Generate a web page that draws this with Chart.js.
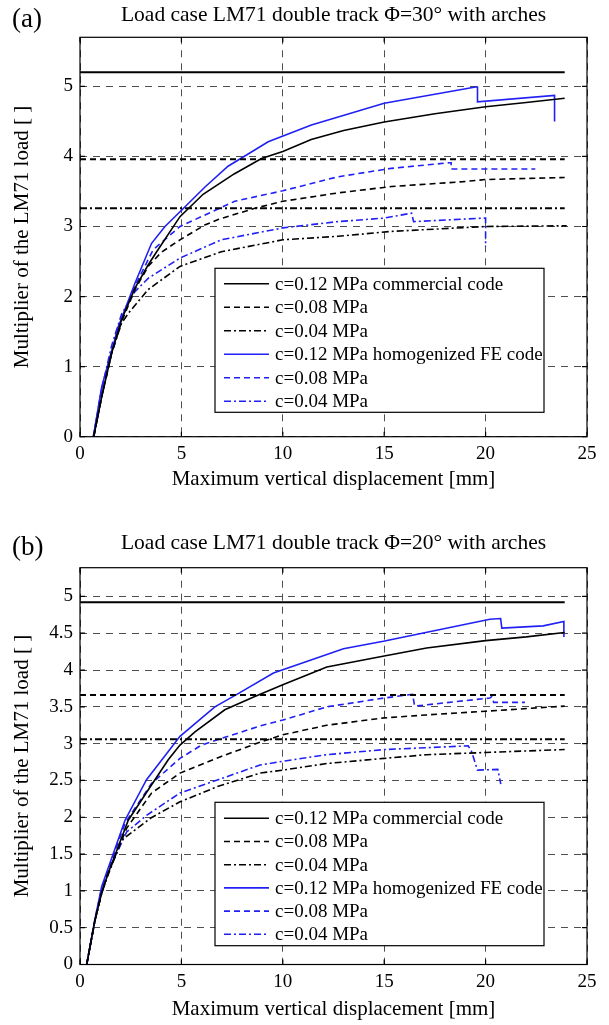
<!DOCTYPE html>
<html>
<head>
<meta charset="utf-8">
<script src="https://cdn.jsdelivr.net/npm/chart.js@4.4.0/dist/chart.umd.min.js"></script>
<style>
    body { margin: 0; background: #fff; }
    #contenedor { position: relative; width: 609px; height: 1025px; }
    .panel { position: absolute; left: 0; }
</style>
</head>
<body>
<div id="contenedor">
    <div class="panel" style="top:0"><canvas id="grafico-a" width="609" height="512"></canvas></div>
    <div class="panel" style="top:512px"><canvas id="grafico-b" width="609" height="513"></canvas></div>
</div>
<script>
var FUENTE = "'Liberation Serif', 'Times New Roman', serif";
var AZUL = '#2020f4';

var ticks_x = [0, 5, 10, 15, 20, 25];
var ticks_y_a = [0, 1, 2, 3, 4, 5];
var ticks_y_b = [0, 0.5, 1, 1.5, 2, 2.5, 3, 3.5, 4, 4.5, 5];

// (a) Phi = 30 deg: limit loads (horizontal lines)
var a_limite = [5.2, 3.96, 3.26];
var a_com_012 = [[0.68, 0], [1.07, 0.57], [1.56, 1.19], [2.05, 1.67], [2.71, 2.12], [3.36, 2.45], [3.78, 2.64], [4.93, 3.14], [6.07, 3.46], [7.6, 3.75], [8.95, 3.97], [10, 4.07], [11.4, 4.24], [13, 4.37], [15, 4.49], [17.5, 4.61], [20, 4.71], [22, 4.77], [23.9, 4.83]];
var a_com_008 = [[0.68, 0], [1.07, 0.57], [1.56, 1.19], [2.05, 1.64], [2.71, 2.1], [3.36, 2.43], [4.0, 2.63], [4.93, 2.81], [6.15, 3.02], [6.81, 3.1], [8.62, 3.26], [10, 3.36], [12.73, 3.48], [15.36, 3.57], [18.9, 3.64], [20, 3.67], [23.9, 3.7]];
var a_com_004 = [[0.68, 0], [1.07, 0.57], [1.56, 1.19], [2.05, 1.62], [2.38, 1.76], [3.36, 2.1], [4.93, 2.43], [6.97, 2.64], [10, 2.81], [12.73, 2.86], [15.36, 2.93], [20, 3.0], [24, 3.01]];
var a_fem_012 = [[0.66, 0], [1.07, 0.71], [1.89, 1.57], [2.71, 2.19], [3.53, 2.76], [4.19, 3.0], [4.93, 3.21], [6.15, 3.56], [7.3, 3.86], [9.28, 4.21], [11.41, 4.45], [15, 4.76], [19.5, 4.99], [19.6, 4.99], [19.6, 4.78], [23.4, 4.87], [23.4, 4.5]];
var a_fem_008 = [[0.66, 0], [1.07, 0.68], [1.89, 1.57], [2.71, 2.15], [3.61, 2.67], [4.93, 3.0], [7.63, 3.36], [10, 3.51], [12.73, 3.71], [15.36, 3.83], [18.2, 3.91], [18.3, 3.91], [18.3, 3.82], [22.45, 3.82]];
var a_fem_004 = [[0.66, 0], [1.07, 0.68], [1.56, 1.3], [2.05, 1.75], [2.71, 2.07], [3.36, 2.26], [4.93, 2.55], [6.97, 2.81], [10, 2.98], [12.73, 3.07], [15, 3.12], [16.35, 3.19], [16.45, 3.07], [20, 3.12], [20, 2.71]];

// (b) Phi = 20 deg
var b_limite = [4.92, 3.66, 3.06];
var b_com_012 = [[0.33, 0], [0.74, 0.6], [1.07, 0.97], [1.39, 1.24], [2.38, 1.96], [3.36, 2.37], [4.35, 2.78], [4.93, 2.98], [5.67, 3.16], [7.14, 3.46], [8.62, 3.64], [10, 3.8], [12.17, 4.04], [15, 4.19], [17.09, 4.3], [20, 4.4], [22, 4.45], [23.9, 4.51]];
var b_com_008 = [[0.33, 0], [0.74, 0.6], [1.07, 0.97], [1.39, 1.24], [2.3, 1.85], [3.53, 2.33], [4.93, 2.6], [6.9, 2.82], [8.88, 3.02], [10, 3.12], [12.17, 3.25], [15, 3.35], [17.09, 3.39], [20, 3.44], [23.9, 3.51]];
var b_com_004 = [[0.33, 0], [0.74, 0.6], [1.07, 0.97], [1.39, 1.22], [2.05, 1.69], [3.49, 1.99], [4.93, 2.21], [6.81, 2.42], [8.88, 2.6], [10, 2.64], [12.17, 2.73], [15, 2.8], [17.09, 2.85], [20, 2.88], [23.9, 2.92]];
var b_fem_012 = [[0.33, 0], [0.74, 0.62], [1.07, 1.06], [2.22, 1.96], [3.28, 2.51], [4.93, 3.1], [6.65, 3.5], [7.8, 3.68], [9.54, 3.96], [12.99, 4.29], [14.96, 4.39], [20.21, 4.69], [20.74, 4.7], [20.8, 4.57], [22.84, 4.6], [23.86, 4.66], [23.86, 4.45]];
var b_fem_008 = [[0.33, 0], [0.74, 0.62], [1.07, 1.03], [2.22, 1.92], [3.53, 2.46], [4.93, 2.8], [5.99, 2.98], [6.97, 3.07], [8.88, 3.24], [10, 3.32], [12.17, 3.5], [15, 3.62], [16.4, 3.67], [16.5, 3.51], [20.21, 3.62], [20.3, 3.64], [20.4, 3.56], [21.94, 3.56]];
var b_fem_004 = [[0.33, 0], [0.74, 0.6], [1.07, 0.99], [1.39, 1.26], [2.3, 1.8], [3.3, 2.03], [4.93, 2.33], [6.81, 2.51], [8.88, 2.71], [10, 2.76], [12.17, 2.85], [15, 2.92], [19.14, 2.97], [19.3, 2.9], [19.6, 2.64], [20.6, 2.65], [20.75, 2.45]];

var etiquetas = [
    'c=0.12 MPa commercial code',
    'c=0.08 MPa',
    'c=0.04 MPa',
    'c=0.12 MPa homogenized FE code',
    'c=0.08 MPa',
    'c=0.04 MPa'
];

var DASH = [6, 4];
var DASH_DOT = [7, 3, 2, 3];

to_xy = function (pares) {
    return pares.map(function (p) { return { x: p[0], y: p[1] }; });
}

serie = function (label, pares, color, dash) {
    return {
        label: label,
        data: to_xy(pares),
        borderColor: color,
        backgroundColor: color,
        borderWidth: 1.6,
        borderDash: dash,
        showLine: true,
        pointRadius: 0,
        tension: 0,
        fill: false
    }
}

linea_limite = function (valor, dash) {
    return {
        data: [{ x: 0, y: valor }, { x: 23.9, y: valor }],
        borderColor: '#000',
        borderWidth: 2,
        borderDash: dash,
        showLine: true,
        pointRadius: 0
    }
}

// frame round the plot plus inward tick marks on the four sides
var marco_plugin = {
    id: 'marco',
    afterDatasetsDraw: function (chart) {
        var ctx = chart.ctx;
        var a = chart.chartArea;
        var sx = chart.scales.x, sy = chart.scales.y;
        ctx.save();
        ctx.strokeStyle = '#000';
        ctx.lineWidth = 1.2;
        ctx.setLineDash([]);
        ctx.beginPath();
        sx.ticks.forEach(function (t) {
            var px = sx.getPixelForValue(t.value);
            ctx.moveTo(px, a.bottom); ctx.lineTo(px, a.bottom - 5);
            ctx.moveTo(px, a.top); ctx.lineTo(px, a.top + 5);
        });
        sy.ticks.forEach(function (t) {
            var py = sy.getPixelForValue(t.value);
            ctx.moveTo(a.left, py); ctx.lineTo(a.left + 5, py);
            ctx.moveTo(a.right, py); ctx.lineTo(a.right - 5, py);
        });
        ctx.stroke();
        ctx.strokeRect(a.left, a.top, a.right - a.left, a.bottom - a.top);
        ctx.restore();
    }
};

var leyenda_plugin = {
    id: 'leyenda_caja',
    afterDatasetsDraw: function (chart, args, opts) {
        var ctx = chart.ctx;
        var a = chart.chartArea;
        var x0 = a.left + opts.left;
        var y0 = a.top + opts.top;
        ctx.save();
        ctx.fillStyle = '#fff';
        ctx.fillRect(x0, y0, opts.width, opts.height);
        ctx.strokeStyle = '#000';
        ctx.lineWidth = 1.2;
        ctx.setLineDash([]);
        ctx.strokeRect(x0, y0, opts.width, opts.height);
        var items = chart.data.datasets.filter(function (d) { return d.label; });
        for (var i = 0; i < items.length; i++) {
            var ds = items[i];
            var y = y0 + opts.first + i * opts.step;
            ctx.beginPath();
            ctx.setLineDash(ds.borderDash || []);
            ctx.strokeStyle = ds.borderColor;
            ctx.lineWidth = ds.borderWidth;
            ctx.moveTo(x0 + 9, y);
            ctx.lineTo(x0 + 54, y);
            ctx.stroke();
            ctx.setLineDash([]);
            ctx.fillStyle = '#000';
            ctx.font = '19px ' + FUENTE;
            ctx.textBaseline = 'middle';
            ctx.textAlign = 'left';
            ctx.fillText(ds.label, x0 + 60, y + 1);
        }
        ctx.restore();
    }
};

var titulo_plugin = {
    id: 'titulo_panel',
    afterDraw: function (chart, args, opts) {
        var ctx = chart.ctx;
        var a = chart.chartArea;
        ctx.save();
        ctx.fillStyle = '#000';
        ctx.textBaseline = 'middle';
        ctx.textAlign = 'center';
        ctx.font = '21.5px ' + FUENTE;
        ctx.fillText(opts.texto, (a.left + a.right) / 2, opts.y);
        ctx.textAlign = 'left';
        ctx.font = '27px ' + FUENTE;
        ctx.fillText(opts.letra, 12, opts.y + 5);
        ctx.restore();
    }
};

function create_chart(id, conf) {
    var ctx = document.getElementById(id);
    var alto = ctx.height;
    var datasets = [
        linea_limite(conf.limite[0], []),
        linea_limite(conf.limite[1], DASH),
        linea_limite(conf.limite[2], DASH_DOT),
        serie(etiquetas[0], conf.series[0], '#000', []),
        serie(etiquetas[1], conf.series[1], '#000', DASH),
        serie(etiquetas[2], conf.series[2], '#000', DASH_DOT),
        serie(etiquetas[3], conf.series[3], AZUL, []),
        serie(etiquetas[4], conf.series[4], AZUL, DASH),
        serie(etiquetas[5], conf.series[5], AZUL, DASH_DOT)
    ];
    return new Chart(ctx, {
        type: 'scatter',
        data: { datasets: datasets },
        plugins: [marco_plugin, leyenda_plugin, titulo_plugin],
        options: {
            responsive: false,
            animation: false,
            devicePixelRatio: 1,
            layout: { padding: { left: 0, right: 22, top: conf.top, bottom: 0 } },
            scales: {
                x: {
                    type: 'linear',
                    min: 0,
                    max: 25,
                    afterFit: function (s) { s.height = alto - conf.bottom; },
                    afterBuildTicks: function (s) { s.ticks = ticks_x.map(function (v) { return { value: v }; }); },
                    grid: { color: '#222', lineWidth: 0.8, drawTicks: false },
                    border: { display: false, dash: [7, 6] },
                    ticks: {
                        color: '#000',
                        padding: 6,
                        maxRotation: 0,
                        font: { family: FUENTE, size: 19 },
                        callback: function (v) { return String(v); }
                    },
                    title: {
                        display: true,
                        text: 'Maximum vertical displacement [mm]',
                        color: '#000',
                        font: { family: FUENTE, size: 21 },
                        padding: { top: 0, bottom: conf.titulo_x }
                    }
                },
                y: {
                    type: 'linear',
                    min: 0,
                    max: conf.ymax,
                    afterFit: function (s) { s.width = 80; },
                    afterBuildTicks: function (s) { s.ticks = conf.ticks_y.map(function (v) { return { value: v }; }); },
                    grid: { color: '#222', lineWidth: 0.8, drawTicks: false },
                    border: { display: false, dash: [7, 6] },
                    ticks: {
                        color: '#000',
                        padding: 7,
                        font: { family: FUENTE, size: 19 },
                        callback: function (v) { return String(v); }
                    },
                    title: {
                        display: true,
                        text: 'Multiplier of the LM71 load [ ]',
                        color: '#000',
                        font: { family: FUENTE, size: 21 },
                        padding: { top: 10, bottom: 0 }
                    }
                }
            },
            plugins: {
                legend: { display: false },
                tooltip: { enabled: false },
                leyenda_caja: conf.leyenda,
                titulo_panel: { texto: conf.titulo, letra: conf.letra, y: conf.titulo_y }
            }
        }
    });
}

create_chart('grafico-a', {
    limite: a_limite,
    series: [a_com_012, a_com_008, a_com_004, a_fem_012, a_fem_008, a_fem_004],
    ymax: 5.7,
    ticks_y: ticks_y_a,
    top: 37.3,
    bottom: 436.7,
    titulo_x: 19.5,
    titulo: 'Load case LM71 double track \u03A6=30\u00B0 with arches',
    letra: '(a)',
    titulo_y: 15,
    leyenda: { left: 135, top: 231, width: 329, height: 144, first: 15.5, step: 23.5 }
});
create_chart('grafico-b', {
    limite: b_limite,
    series: [b_com_012, b_com_008, b_com_004, b_fem_012, b_fem_008, b_fem_004],
    ymax: 5.39,
    ticks_y: ticks_y_b,
    top: 55.7,
    bottom: 452.5,
    titulo_x: 2.5,
    titulo: 'Load case LM71 double track \u03A6=20\u00B0 with arches',
    letra: '(b)',
    titulo_y: 31.3,
    leyenda: { left: 135, top: 234.6, width: 329, height: 143.4, first: 16, step: 23.2 }
});
</script>
</body>
</html>
